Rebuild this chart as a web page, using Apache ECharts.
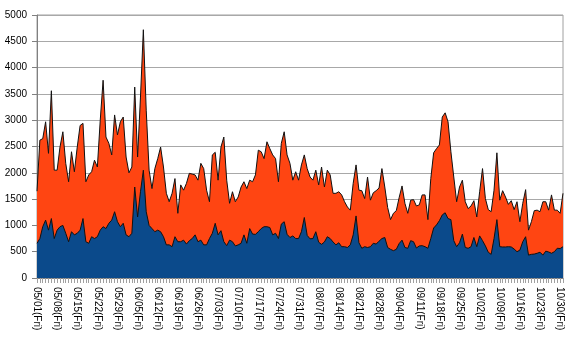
<!DOCTYPE html>
<html>
<head>
<meta charset="utf-8">
<script src="https://cdn.jsdelivr.net/npm/echarts@6/dist/echarts.min.js"></script>
<style>
html,body{margin:0;padding:0;background:#fff;}
#chart{width:574px;height:350px;}
</style>
</head>
<body>
<div id="chart"></div>
<script>
// Daily categories: 2009-05-01 (Fri) .. 10-31
const startDate = [2009, 4, 1];
const dayCount = 184;
const weekdayNames = ['Sun','Mon','Tue','Wed','Thu','Fri','Sat'];

// Total (upper, orange area top) per day
const totalValues = [
  1650,2620,2650,2970,2370,3560,2050,2050,2490,2780,
  2180,1830,2400,2020,2490,2900,2940,1830,1960,2020,
  2240,2110,3000,3760,2680,2560,2340,3100,2720,2970,
  3060,2300,2000,2110,3630,2300,3440,4720,3190,2050,
  1700,2080,2270,2490,2110,1610,1450,1610,1890,1230,
  1770,1670,1800,1990,1975,1960,1860,2180,2080,1670,
  1450,2340,2390,1860,2490,2680,1860,1420,1640,1450,
  1540,1730,1830,1700,1860,1830,1960,2430,2400,2270,
  2590,2460,2340,2270,1830,2560,2780,2340,2180,1860,
  2020,1860,2150,2340,2080,1920,1860,2050,1770,2110,
  1730,2050,1960,1610,1610,1640,1580,1450,1350,1290,
  1800,2150,1670,1660,1510,1920,1480,1620,1660,1710,
  2080,1730,1340,1110,1230,1280,1530,1750,1420,1230,
  1480,1490,1370,1390,1580,1580,1110,1890,2380,2460,
  2530,3060,3140,2970,2400,1920,1450,1730,1860,1450,
  1320,1370,1470,1160,1640,2080,1510,1300,1260,1670,
  2380,1480,1660,1540,1400,1470,1300,1450,1070,1420,
  1680,910,1070,1280,1290,1260,1450,1450,1290,1580,
  1290,1290,1230,1610
];

// Lower (blue area) per day
const lowerValues = [
  660,750,975,1100,910,1130,750,910,975,1000,
  850,690,880,820,850,910,1130,690,660,785,
  750,785,910,975,940,1040,1100,1260,1070,975,
  1040,820,785,850,1730,1160,1640,2050,1260,1000,
  940,880,910,880,785,630,630,595,785,690,
  690,720,645,710,750,820,690,720,630,630,
  750,850,1040,820,900,690,615,720,690,610,
  630,660,820,660,940,835,830,880,940,975,
  975,960,820,850,750,1025,1070,830,770,800,
  750,750,880,1150,810,745,750,880,680,640,
  685,785,750,685,630,670,595,595,580,630,
  820,1180,670,565,595,580,595,660,645,700,
  750,770,580,545,520,545,655,720,580,565,
  710,690,570,610,615,595,565,750,950,1010,
  1090,1200,1240,1130,1110,710,595,670,835,580,
  565,595,770,595,800,710,610,490,450,750,
  1110,595,590,590,595,590,550,500,530,690,
  785,435,450,455,470,490,435,510,495,470,
  500,565,560,595
];

const yTicks = { min: 0, max: 5000, interval: 500 };

const categories = [];
for (let i = 0; i < dayCount; i++) {
  const d = new Date(Date.UTC(startDate[0], startDate[1], startDate[2] + i));
  const mm = String(d.getUTCMonth() + 1).padStart(2, '0');
  const dd = String(d.getUTCDate()).padStart(2, '0');
  categories.push(mm + '/' + dd + '(' + weekdayNames[d.getUTCDay()] + ')');
}

const chart = echarts.init(document.getElementById('chart'), null, { renderer: 'canvas' });
const font = '"Liberation Sans", Arial, sans-serif';
chart.setOption({
  animation: false,
  backgroundColor: '#ffffff',
  grid: {
    left: 37, right: 11, top: 15, bottom: 72,
    show: true, borderColor: '#a0a0a0', borderWidth: 1, backgroundColor: 'transparent'
  },
  xAxis: {
    type: 'category',
    data: categories,
    boundaryGap: false,
    axisLine: { lineStyle: { color: '#808080', width: 1 } },
    axisTick: { show: true, interval: 0, length: 5, lineStyle: { color: '#a0a0a0' } },
    axisLabel: {
      interval: 6, rotate: -90, margin: 9,
      fontFamily: font, fontSize: 10, color: '#000'
    },
    splitLine: { show: false }
  },
  yAxis: {
    type: 'value',
    min: yTicks.min, max: yTicks.max, interval: yTicks.interval,
    axisLine: { show: true, lineStyle: { color: '#808080', width: 1 } },
    axisTick: { show: true, length: 5, lineStyle: { color: '#808080' } },
    axisLabel: {
      fontFamily: font, fontSize: 10, color: '#000', margin: 10,
      formatter: function (v) { return String(v); }
    },
    splitLine: { show: true, lineStyle: { color: '#a8a8a8', width: 1 } }
  },
  series: [
    {
      name: 'total', type: 'line', data: totalValues,
      symbol: 'none', smooth: false,
      lineStyle: { color: '#111', width: 1 },
      areaStyle: { color: '#ff4512', opacity: 1 },
      z: 2
    },
    {
      name: 'lower', type: 'line', data: lowerValues,
      symbol: 'none', smooth: false,
      lineStyle: { color: '#111', width: 1 },
      areaStyle: { color: '#0b4a8b', opacity: 1 },
      z: 3
    }
  ]
});
</script>
</body>
</html>
